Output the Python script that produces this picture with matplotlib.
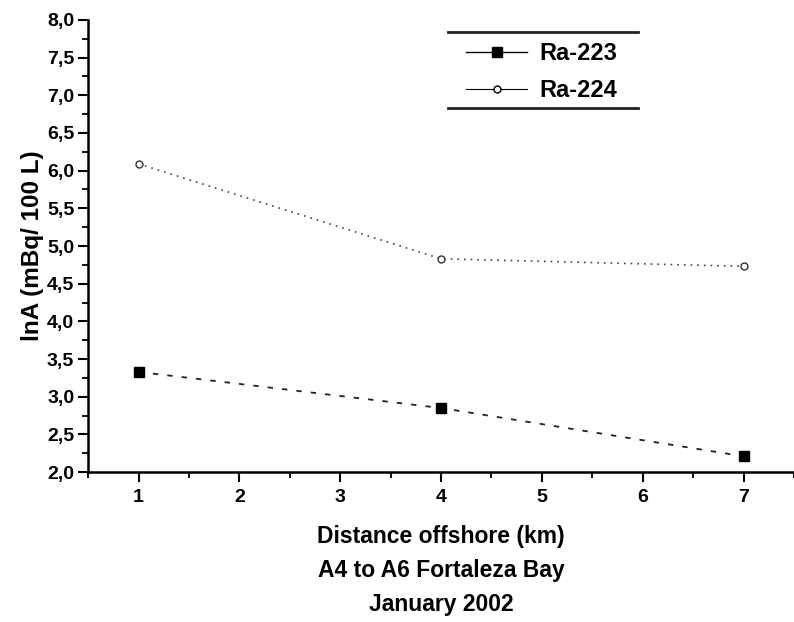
import numpy as np
import matplotlib
matplotlib.use("Agg")
import matplotlib.pyplot as plt
from matplotlib.lines import Line2D
from matplotlib.ticker import MultipleLocator, FuncFormatter

plt.rcParams['font.family'] = ['Liberation Sans', 'DejaVu Sans']
plt.rcParams['font.weight'] = 'bold'

# distance offshore (km) and ln activity
dist = [1, 4, 7]
ra223 = [3.33, 2.85, 2.21]
ra224 = [6.09, 4.83, 4.73]

fig = plt.figure(figsize=(7.94, 6.22), dpi=100)
ax = fig.add_axes([0.111, 0.241, 0.889, 0.727])

ax.plot(dist, ra223, linestyle=(0, (3, 5)), color='#222222', lw=1.3,
        marker='s', ms=7, mfc='black', mec='black')
ax.plot(dist, ra224, linestyle=(0, (1, 3)), color='#444444', lw=1.2,
        marker='o', ms=5, mfc='white', mec='#333333', mew=1.0)

ax.set_xlim(0.5, 7.5)
ax.set_ylim(2.0, 8.0)
ax.spines['top'].set_visible(False)
ax.spines['right'].set_visible(False)
ax.spines['left'].set_linewidth(1.8)
ax.spines['bottom'].set_linewidth(1.8)

ax.xaxis.set_major_locator(MultipleLocator(1))
ax.xaxis.set_minor_locator(MultipleLocator(0.5))
ax.yaxis.set_major_locator(MultipleLocator(0.5))
ax.yaxis.set_minor_locator(MultipleLocator(0.25))
ax.yaxis.set_major_formatter(FuncFormatter(lambda v, p: f"{v:.1f}".replace('.', ',')))
ax.tick_params(which='major', length=7, width=1.5, labelsize=14)
ax.tick_params(which='minor', length=4, width=1.3)
ax.tick_params(axis='x', pad=5)
ax.tick_params(axis='y', pad=3)
for lbl in ax.get_xticklabels() + ax.get_yticklabels():
    lbl.set_fontweight('bold')

ax.set_ylabel('lnA (mBq/ 100 L)', fontsize=17.5, fontweight='bold', labelpad=2)
ax.set_xlabel('Distance offshore (km)\nA4 to A6 Fortaleza Bay\nJanuary 2002',
              fontsize=16.5, fontweight='bold', linespacing=1.6, labelpad=14)

handles = [
    Line2D([], [], color='black', lw=1.0, marker='s', ms=7, mfc='black', mec='black'),
    Line2D([], [], color='black', lw=0.8, marker='o', ms=5, mfc='white', mec='black'),
]
leg = ax.legend(handles, ['Ra-223', 'Ra-224'], loc='upper left',
                bbox_to_anchor=(0.505, 0.998), frameon=False, fontsize=17,
                handlelength=2.6, handletextpad=0.5, labelspacing=0.6)

# rules above and below the legend
for yy in (1 - 32 / 622, 1 - 108 / 622):
    fig.add_artist(Line2D([448 / 794, 638 / 794], [yy, yy], color='#222222', lw=2.0,
                          transform=fig.transFigure))

fig.savefig('out.png', dpi=100)
